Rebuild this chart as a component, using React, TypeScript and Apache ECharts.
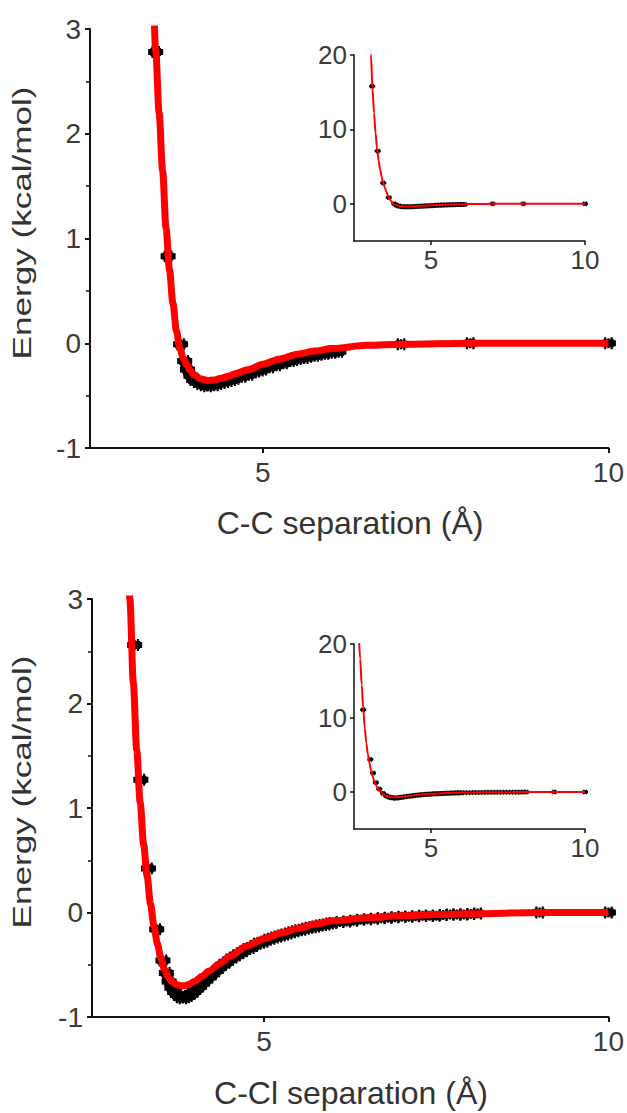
import React, { useEffect, useRef } from "react";
import * as echarts from "echarts";

// ---- C-C data ----
const ccFitX = [3.0, 3.05, 3.1, 3.15, 3.2, 3.25, 3.3, 3.35, 3.4, 3.45, 3.5, 3.55, 3.6, 3.65, 3.7, 3.75, 3.8, 3.85, 3.9, 3.95, 4.0, 4.1, 4.2, 4.3, 4.4, 4.5, 4.6, 4.8, 5.0, 5.25, 5.5, 5.75, 6.0, 6.5, 7.0, 8.0, 10.0];
const ccFitY = [26, 20, 15.5, 12.2, 9.5, 7.4, 5.8, 4.6, 3.6, 2.8, 2.2, 1.65, 1.1, 0.7, 0.38, 0.12, -0.05, -0.14, -0.21, -0.26, -0.3, -0.34, -0.355, -0.35, -0.335, -0.315, -0.29, -0.25, -0.2, -0.15, -0.105, -0.075, -0.05, -0.02, -0.01, 0.0, 0.0];

const ccPtX = [3.09, 3.27, 3.45, 3.63, 3.81, 3.87, 3.91, 3.96, 4.0, 4.05, 4.1, 4.15, 4.2, 4.25, 4.3, 4.35, 4.4, 4.45, 4.5, 4.55, 4.6, 4.65, 4.7, 4.75, 4.8, 4.85, 4.9, 4.95, 5.0, 5.05, 5.1, 5.15, 5.2, 5.25, 5.3, 5.35, 5.4, 5.45, 5.5, 5.55, 5.6, 5.65, 5.7, 5.75, 5.8, 5.85, 5.9, 5.95, 6.0, 6.05, 6.1, 7.0, 8.0, 10.0];
const ccPtY = [15.8, 7.1, 2.78, 0.83, -0.01, -0.17, -0.25, -0.31, -0.35, -0.37, -0.39, -0.4, -0.41, -0.4, -0.4, -0.39, -0.38, -0.37, -0.36, -0.35, -0.34, -0.32, -0.32, -0.3, -0.3, -0.28, -0.27, -0.26, -0.25, -0.23, -0.23, -0.21, -0.21, -0.19, -0.19, -0.17, -0.17, -0.16, -0.15, -0.14, -0.14, -0.13, -0.12, -0.12, -0.11, -0.1, -0.1, -0.09, -0.09, -0.08, -0.08, -0.01, 0.0, 0.0];

// ---- C-Cl data ----
const cclFitX = [2.65, 2.7, 2.75, 2.8, 2.85, 2.9, 2.95, 3.0, 3.05, 3.1, 3.15, 3.2, 3.25, 3.3, 3.35, 3.4, 3.45, 3.5, 3.55, 3.6, 3.65, 3.7, 3.75, 3.8, 3.85, 3.9, 4.0, 4.1, 4.2, 4.35, 4.5, 4.75, 5.0, 5.25, 5.5, 5.75, 6.0, 6.5, 7.0, 7.5, 8.0, 9.0, 10.0];
const cclFitY = [22, 18, 14.5, 11.3, 8.6, 6.6, 5.1, 3.95, 3.0, 2.2, 1.55, 1.05, 0.65, 0.35, 0.08, -0.13, -0.3, -0.44, -0.54, -0.61, -0.655, -0.68, -0.695, -0.7, -0.7, -0.69, -0.655, -0.61, -0.56, -0.49, -0.42, -0.32, -0.25, -0.195, -0.15, -0.11, -0.08, -0.05, -0.032, -0.02, -0.012, 0.0, 0.0];

const cclPtX = [2.8, 3.03, 3.12, 3.21, 3.32, 3.44, 3.53, 3.58, 3.62, 3.66, 3.7, 3.74, 3.78, 3.82, 3.86, 3.9, 3.94, 3.98, 4.02, 4.06, 4.1, 4.15, 4.2, 4.25, 4.3, 4.35, 4.4, 4.45, 4.5, 4.55, 4.6, 4.65, 4.7, 4.75, 4.8, 4.85, 4.9, 4.95, 5.0, 5.05, 5.1, 5.15, 5.2, 5.25, 5.3, 5.35, 5.4, 5.45, 5.5, 5.55, 5.6, 5.65, 5.7, 5.75, 5.8, 5.85, 5.9, 5.95, 6.0, 6.1, 6.2, 6.3, 6.4, 6.5, 6.6, 6.7, 6.8, 6.9, 7.0, 7.1, 7.2, 7.3, 7.4, 7.5, 7.6, 7.7, 7.8, 7.9, 8.0, 8.1, 9.0, 10.0];
const cclPtY = [11.1, 4.4, 2.56, 1.27, 0.42, -0.16, -0.46, -0.58, -0.66, -0.72, -0.76, -0.79, -0.81, -0.82, -0.81, -0.8, -0.78, -0.76, -0.73, -0.71, -0.68, -0.65, -0.62, -0.59, -0.56, -0.53, -0.5, -0.48, -0.45, -0.43, -0.41, -0.39, -0.37, -0.35, -0.34, -0.32, -0.3, -0.29, -0.28, -0.26, -0.25, -0.24, -0.23, -0.22, -0.21, -0.2, -0.19, -0.18, -0.17, -0.165, -0.155, -0.145, -0.14, -0.135, -0.125, -0.12, -0.115, -0.105, -0.1, -0.09, -0.085, -0.08, -0.07, -0.065, -0.06, -0.055, -0.05, -0.045, -0.04, -0.04, -0.035, -0.03, -0.03, -0.03, -0.025, -0.02, -0.02, -0.02, -0.015, -0.01, 0.0, 0.0];

// ---- axis ticks / labels ----
const xTickValues = [5, 10];
const insetYTickValues = [0, 10, 20];
const mainYRange = [-1, 3];
const insetYRange = [-5, 20];
const xRange = [2.5, 10];

const xTitleTop = "C-C separation (Å)";
const xTitleBottom = "C-Cl separation (Å)";
const yTitle = "Energy (kcal/mol)";

const FONT = '"Liberation Sans", Arial, sans-serif';
const STAR =
  "path://M2,2L12,2L12,10L2,10Z M0,3L14,3L14,9L0,9Z M3,0L5,0L5,12L3,12Z M9,0L11,0L11,12L9,12Z M6,1L8,1L8,11L6,11Z";

const zip = (xs: number[], ys: number[]) => xs.map((x, i) => [x, ys[i]]);

function xAxisDef(grid: number, main: boolean) {
  const ls = { color: "#111", width: main ? 2 : 1.5 };
  return {
    type: "value",
    gridIndex: grid,
    min: xRange[0],
    max: xRange[1],
    axisLine: { show: true, onZero: false, lineStyle: ls },
    axisTick: { show: true, customValues: xTickValues, length: main ? 5 : 4, lineStyle: ls },
    axisLabel: {
      customValues: xTickValues,
      fontSize: main ? 28 : 26,
      fontFamily: FONT,
      color: "#3a3a3a",
      margin: main ? 10 : 6,
    },
    splitLine: { show: false },
  };
}

function yAxisDef(grid: number, main: boolean) {
  const ls = { color: "#111", width: main ? 2 : 1.5 };
  if (main) {
    return {
      type: "value",
      gridIndex: grid,
      min: mainYRange[0],
      max: mainYRange[1],
      interval: 1,
      axisLine: { show: true, onZero: false, lineStyle: ls },
      axisTick: { show: true, length: 5, lineStyle: ls },
      minorTick: { show: true, splitNumber: 2, length: 4, lineStyle: { color: "#111", width: 1.5 } },
      axisLabel: { fontSize: 28, fontFamily: FONT, color: "#3a3a3a", margin: 9 },
      splitLine: { show: false },
      minorSplitLine: { show: false },
    };
  }
  return {
    type: "value",
    gridIndex: grid,
    min: insetYRange[0],
    max: insetYRange[1],
    axisLine: { show: true, onZero: false, lineStyle: ls },
    axisTick: { show: true, customValues: insetYTickValues, length: 4, lineStyle: ls },
    axisLabel: { customValues: insetYTickValues, fontSize: 26, fontFamily: FONT, color: "#3a3a3a", margin: 7 },
    splitLine: { show: false },
  };
}

function seriesFor(idx: number, main: boolean, fitX: number[], fitY: number[], ptX: number[], ptY: number[]) {
  return [
    {
      type: "scatter",
      xAxisIndex: idx,
      yAxisIndex: idx,
      data: zip(ptX, ptY),
      symbol: STAR,
      symbolSize: main ? [15, 12] : [6, 5],
      itemStyle: { color: "#000", opacity: 1 },
      clip: true,
      z: 2,
    },
    {
      type: "line",
      xAxisIndex: idx,
      yAxisIndex: idx,
      data: zip(fitX, fitY),
      showSymbol: false,
      smooth: 0.3,
      smoothMonotone: "x",
      lineStyle: { color: "#ff0000", width: main ? 7 : 2 },
      itemStyle: { color: "#ff0000" },
      clip: true,
      z: 3,
    },
  ];
}

export default function App() {
  const ref = useRef<HTMLDivElement>(null);
  useEffect(() => {
    if (!ref.current) return;
    const chart = echarts.init(ref.current, null, { renderer: "svg" });
    chart.setOption({
      animation: false,
      backgroundColor: "#ffffff",
      grid: [
        { left: 90, top: 29, width: 519, height: 419 },
        { left: 354, top: 55, width: 231, height: 186 },
        { left: 92, top: 599, width: 519, height: 418 },
        { left: 354, top: 644, width: 231, height: 185 },
      ],
      xAxis: [xAxisDef(0, true), xAxisDef(1, false), xAxisDef(2, true), xAxisDef(3, false)],
      yAxis: [yAxisDef(0, true), yAxisDef(1, false), yAxisDef(2, true), yAxisDef(3, false)],
      series: [
        ...seriesFor(0, true, ccFitX, ccFitY, ccPtX, ccPtY),
        ...seriesFor(1, false, ccFitX, ccFitY, ccPtX, ccPtY),
        ...seriesFor(2, true, cclFitX, cclFitY, cclPtX, cclPtY),
        ...seriesFor(3, false, cclFitX, cclFitY, cclPtX, cclPtY),
      ],
      graphic: [
        {
          type: "text",
          x: 350,
          y: 523,
          style: { text: xTitleTop, font: `32px ${FONT}`, fill: "#333", align: "center", verticalAlign: "middle" },
        },
        {
          type: "text",
          x: 351,
          y: 1093,
          style: { text: xTitleBottom, font: `32px ${FONT}`, fill: "#333", align: "center", verticalAlign: "middle" },
        },
        {
          type: "text",
          x: 22,
          y: 223,
          rotation: Math.PI / 2,
          scaleX: 1.35,
          style: { text: yTitle, font: `26px ${FONT}`, fill: "#333", align: "center", verticalAlign: "middle" },
        },
        {
          type: "text",
          x: 22,
          y: 792,
          rotation: Math.PI / 2,
          scaleX: 1.35,
          style: { text: yTitle, font: `26px ${FONT}`, fill: "#333", align: "center", verticalAlign: "middle" },
        },
      ],
    });
    return () => chart.dispose();
  }, []);
  return (
    <div
      ref={ref}
      style={{ position: "absolute", left: 0, top: 0, width: 627, height: 1113, background: "#fff" }}
    />
  );
}
